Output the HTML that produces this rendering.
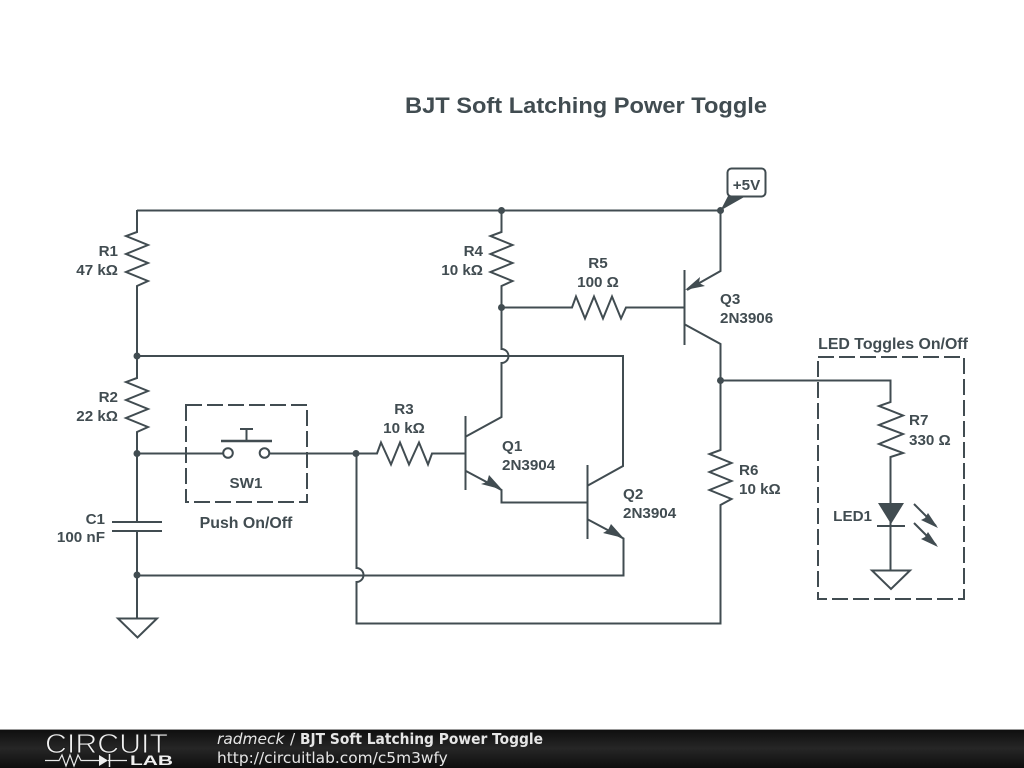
<!DOCTYPE html>
<html><head><meta charset="utf-8"><style>
html,body{margin:0;padding:0;background:#fff;width:1024px;height:768px;overflow:hidden}
svg{display:block}
.w{fill:none;stroke:#414c51;stroke-width:2;stroke-linejoin:miter}
.d{fill:none;stroke:#414c51;stroke-width:2;stroke-dasharray:16 5}
.n{fill:#414c51}
text{font-family:"Liberation Sans",sans-serif;font-weight:bold;font-size:15.200px;fill:#414c51}
.a{font-size:15.900px}
.f{font-family:"DejaVu Sans",sans-serif;font-size:15.400px;fill:#e6e6e6;font-weight:normal}
</style></head><body>
<svg width="1024" height="768" viewBox="0 0 1024 768" xmlns="http://www.w3.org/2000/svg">
<defs><linearGradient id="g" x1="0" y1="0" x2="0" y2="1"><stop offset="0" stop-color="#0e0e0e"/><stop offset=".5" stop-color="#262626"/><stop offset="1" stop-color="#0e0e0e"/></linearGradient></defs>
<rect width="1024" height="768" fill="#fff"/>
<text x="405" y="113" style="font-size:22px" textLength="362" lengthAdjust="spacingAndGlyphs">BJT Soft Latching Power Toggle</text>

<!-- wires -->
<path class="w" d="M137 210.500H720.500V271L687 290"/>
<path class="w" d="M137 210V232L126 236L148 245L126 254L148 263L126 272L148 281L137 286V378L126 382L148 391L126 400L148 409L126 418L148 427L137 432V522"/>
<path class="w" d="M112 522H162M112 531H162"/>
<path class="w" d="M137 531V618"/>
<path class="w" d="M118 618.500H157L137.500 637.500Z"/>
<path class="w" d="M137 356H623V466L587 486"/>
<path class="w" d="M501.500 210V232L490.500 236L512.500 245L490.500 254L512.500 263L490.500 272L512.500 281L501.500 286V349A7 7 0 0 1 501.500 363V417L465 437"/>
<path class="w" d="M501 307.500H572L576 296.500L585 318.500L594 296.500L603 318.500L612 296.500L621 318.500L626 307.500H684"/>
<path class="w" d="M684.500 270V345M684 324L720.500 344V450L709.500 454L731.500 463L709.500 472L731.500 481L709.500 490L731.500 499L720.500 505V623.500H356.500V582A7 7 0 0 0 356.500 568V453"/>
<path class="w" d="M720 380.500H890.500V402L879 406L903 415.500L879 425L903 434L879 444L903 453L890.500 457V570"/>
<path class="w" d="M877 526H905"/>
<path class="w" d="M872 570.500H910L891 589Z"/>
<path class="n" d="M878 503H904L891 524Z"/>
<path class="w" d="M137 453.500H223M270 453.500H377L381 442.500L391 464.500L400 442.500L409 464.500L419 442.500L428 464.500L432 453.500H465"/>
<circle class="w" cx="228" cy="453" r="4.800" style="fill:#fff"/>
<circle class="w" cx="264.500" cy="453" r="4.800" style="fill:#fff"/>
<path class="w" d="M221 441H272" style="stroke-width:2.500"/>
<path class="w" d="M246.500 441V429M240 429H253"/>
<path class="w" d="M465.500 416V490M465 470.500L501.500 490V502.500H587"/>
<path class="w" d="M587.500 465V539M587 519L623.500 538.500V575.500H137"/>

<!-- arrowheads -->
<path class="n" d="M685 290L700 277L699 283L705 286Z"/>
<path class="n" d="M502 489.500L481 484L487 482L489 475Z"/>
<path class="n" d="M623.500 538L603 533L608 530L611 524Z"/>
<path class="w" d="M914 504L936 526M914 523L936 545"/>
<path class="n" d="M938 528L921 520L925 518L928 513Z"/>
<path class="n" d="M938 547L921 539L925 537L928 532Z"/>
<path class="n" d="M720.500 210.500L728 196H746Z"/>

<!-- nodes -->
<g class="n">
<circle cx="501.500" cy="210.500" r="3.500"/><circle cx="720.500" cy="210.500" r="3.500"/>
<circle cx="501.500" cy="307.500" r="3.500"/><circle cx="137" cy="356" r="3.500"/>
<circle cx="720.500" cy="380.500" r="3.500"/><circle cx="137" cy="453.500" r="3.500"/>
<circle cx="356" cy="453.500" r="3.500"/><circle cx="137" cy="575" r="3.500"/>
</g>

<rect x="727.500" y="168.500" width="38" height="28" rx="4" fill="#fff" stroke="#414c51" stroke-width="2"/>
<text x="746.500" y="190" text-anchor="middle">+5V</text>

<rect class="d" x="186" y="405" width="121" height="97"/>
<rect class="d" x="818" y="357" width="146" height="242"/>

<!-- labels -->
<g text-anchor="end">
<text x="118" y="256">R1</text><text x="118" y="275">47 kΩ</text>
<text x="118" y="402">R2</text><text x="118" y="421">22 kΩ</text>
<text x="105" y="524">C1</text><text x="105" y="542">100 nF</text>
<text x="483" y="256">R4</text><text x="483" y="275">10 kΩ</text>
<text x="872" y="521">LED1</text>
</g>
<g text-anchor="middle">
<text x="598" y="268">R5</text><text x="598" y="287">100 Ω</text>
<text x="404" y="414">R3</text><text x="404" y="433">10 kΩ</text>
<text x="246" y="488">SW1</text>
<text class="a" x="246" y="528">Push On/Off</text>
<text class="a" x="893" y="349">LED Toggles On/Off</text>
</g>
<text x="720" y="304">Q3</text><text x="720" y="323">2N3906</text>
<text x="502" y="451">Q1</text><text x="502" y="470">2N3904</text>
<text x="623" y="499">Q2</text><text x="623" y="518">2N3904</text>
<text x="739" y="475">R6</text><text x="739" y="494">10 kΩ</text>
<text x="909" y="425">R7</text><text x="909" y="445">330 Ω</text>

<!-- footer -->
<rect x="0" y="729" width="1024" height="39" fill="url(#g)"/>
<rect x="0" y="729" width="1024" height="1" fill="#999"/>
<text x="45" y="753" textLength="123" lengthAdjust="spacingAndGlyphs" style="font-size:28px;font-weight:normal;fill:#f0f0f0;stroke:#1c1c1c;stroke-width:.9">CIRCUIT</text>
<path d="M45 760.500H59L62 755L66 766L70 755L74 766L78 755L81 760.500H85H99M108 760.500H127" fill="none" stroke="#e8e8e8" stroke-width="1.200"/>
<path d="M99 755V766L108 760.500Z" fill="#eee"/>
<path d="M109.500 754V767" stroke="#eee" stroke-width="1.500"/>
<text x="130" y="765" textLength="43" lengthAdjust="spacingAndGlyphs" style="font-size:14px;fill:#f0f0f0">LAB</text>
<text class="f" x="217" y="744" font-style="italic">radmeck</text>
<text class="f" x="290" y="744">/</text>
<text class="f" x="300" y="744" font-weight="bold" style="font-weight:bold" textLength="243" lengthAdjust="spacingAndGlyphs">BJT Soft Latching Power Toggle</text>
<text class="f" x="217" y="763">http://circuitlab.com/c5m3wfy</text>
</svg>
</body></html>
